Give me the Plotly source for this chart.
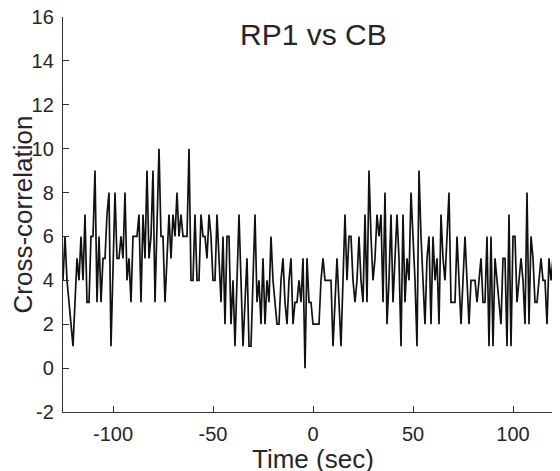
import plotly.graph_objects as go

# Time lags (sec), 1-s bins
time_sec = list(range(-125, 126))

# Cross-correlation counts
cross_corr = [
    4, 6, 4, 3, 2, 1, 3, 5, 4, 6,      # -125 .. -116
    4, 7, 3, 3, 6, 6, 9, 3, 6, 3,      # -115 .. -106
    5, 5, 7, 8, 1, 5, 8, 5, 5, 6,      # -105 .. -96
    5, 8, 4, 5, 3, 6, 6, 6, 7, 3,      # -95 .. -86
    7, 5, 9, 5, 6, 9, 3, 6, 10, 6,     # -85 .. -76
    6, 3, 5, 7, 5, 7, 6, 8, 6, 7,      # -75 .. -66
    6, 6, 6, 10, 4, 4, 7, 4, 4, 7,     # -65 .. -56
    6, 6, 5, 7, 6, 4, 4, 7, 5, 3,      # -55 .. -46
    6, 2, 6, 6, 2, 4, 1, 4, 7, 4,      # -45 .. -36
    1, 3, 5, 1, 1, 4, 7, 3, 4, 2,      # -35 .. -26
    5, 2, 4, 3, 6, 4, 3, 2, 2, 4,      # -25 .. -16
    5, 3, 2, 4, 5, 2, 3, 3, 4, 3,      # -15 .. -6
    5, 0, 5, 3, 3, 2, 2, 2, 2, 4,      # -5 .. 4
    5, 4, 4, 4, 4, 1, 3, 5, 3, 1,      # 5 .. 14
    4, 7, 4, 6, 6, 4, 3, 4, 6, 4,      # 15 .. 24
    3, 7, 3, 9, 6, 4, 5, 7, 6, 7,      # 25 .. 34
    3, 8, 2, 4, 7, 3, 5, 7, 5, 1,      # 35 .. 44
    7, 3, 5, 4, 8, 6, 4, 1, 9, 6,      # 45 .. 54
    4, 2, 5, 6, 2, 6, 4, 5, 2, 7,      # 55 .. 64
    5, 4, 6, 8, 3, 3, 3, 6, 4, 2,      # 65 .. 74
    4, 6, 4, 2, 4, 4, 4, 3, 4, 5,      # 75 .. 84
    3, 3, 6, 1, 6, 1, 5, 4, 3, 2,      # 85 .. 94
    5, 5, 1, 7, 1, 6, 6, 3, 4, 5,      # 95 .. 104
    4, 2, 8, 2, 6, 5, 3, 3, 4, 5,      # 105 .. 114
    4, 4, 2, 5, 4, 5, 4, 6, 4, 6,      # 115 .. 124
    5,                                 # 125
]

x_ticks = [-100, -50, 0, 50, 100]
x_tick_labels = ["-100", "-50", "0", "50", "100"]
y_ticks = [-2, 0, 2, 4, 6, 8, 10, 12, 14, 16]
y_tick_labels = ["-2", "0", "2", "4", "6", "8", "10", "12", "14", "16"]

FONT = "Liberation Sans, Arial, sans-serif"
INK = "#262626"

fig = go.Figure()
fig.add_trace(go.Scatter(
    x=time_sec, y=cross_corr, mode="lines",
    line=dict(color="#111111", width=1.7),
    showlegend=False, hoverinfo="skip",
))

axis_common = dict(
    showgrid=False, zeroline=False, showline=True, automargin=False,
    linecolor="#333333", linewidth=1.4,
    ticks="inside", ticklen=6, tickwidth=1.2, tickcolor="#333333",
    tickfont=dict(family=FONT, size=20, color=INK),
    ticklabeloverflow="allow",
    mirror=False,
)

# The page body adds an 8px margin, so the figure is sized to fill the rest.
fig.update_layout(
    width=552, height=463,
    margin=dict(l=55, r=0, t=9, b=59),
    paper_bgcolor="white", plot_bgcolor="white",
    font=dict(family=FONT, color=INK),
    xaxis=dict(
        range=[-125, 123.5], tickvals=x_ticks, ticktext=x_tick_labels,
        ticklabelstandoff=4,
        **axis_common,
    ),
    yaxis=dict(
        range=[-2, 16], tickvals=y_ticks, ticktext=y_tick_labels,
        ticklabelstandoff=4,
        title=dict(text="Cross-correlation", font=dict(family=FONT, size=26, color=INK), standoff=1),
        **axis_common,
    ),
    annotations=[
        dict(
            text="RP1 vs CB", x=0, xref="x", y=0.956, yref="paper",
            xanchor="center", yanchor="middle", showarrow=False,
            font=dict(family=FONT, size=30, color=INK),
        ),
        dict(
            text="Time (sec)", x=0, xref="x", y=-0.12, yref="paper",
            xanchor="center", yanchor="middle", showarrow=False,
            font=dict(family=FONT, size=26, color=INK),
        ),
    ],
)

fig.write_html("out.html")
